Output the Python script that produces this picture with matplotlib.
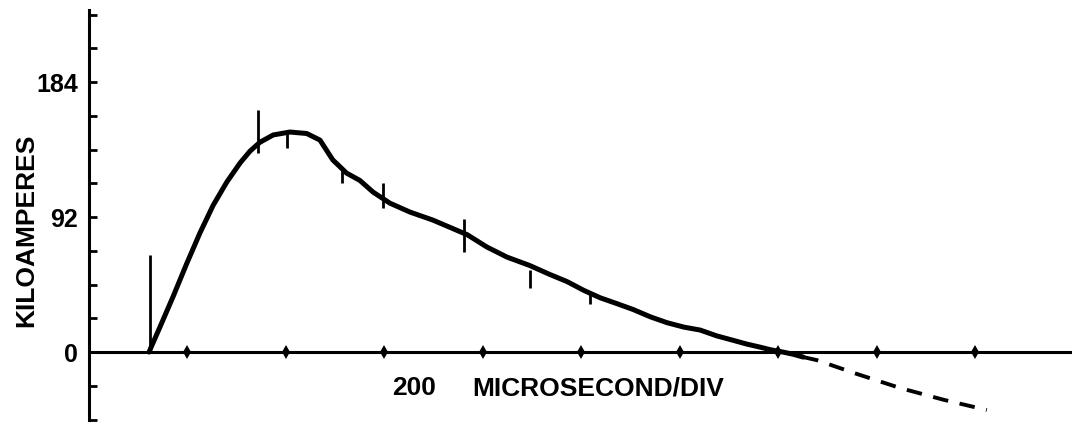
import matplotlib
matplotlib.use('Agg')
import matplotlib.pyplot as plt

# current trace, microseconds vs kiloamperes
time_us = [122, 127, 144, 171, 198, 225, 252, 280, 307, 327, 347, 374, 408, 442,
           469, 495, 523, 550, 577, 611, 652, 698, 733, 768, 808, 849, 895, 935,
           971, 1005, 1038, 1072, 1105, 1140, 1174, 1208, 1241, 1275, 1308, 1335,
           1362, 1385, 1409, 1430, 1450]
current_ka = [0, 4, 17, 38, 60, 81, 100, 116, 129, 137, 143, 148, 150, 149,
              144.5, 131, 122, 117, 109, 101.5, 95.4, 90, 85, 80, 71.6, 64.7, 59, 53,
              48, 42, 37, 33, 29, 24, 20, 17, 15, 11, 8, 5.5,
              3.4, 1.5, 0, -1.5, -3.4]

# extrapolated (dashed) tail
tail_us = [1450, 1478, 1560, 1647, 1735, 1823]
tail_ka = [-3.4, -5.5, -15, -24.5, -32.5, -39.5]

# noise spikes: position, low end, high end
spike_us = [124, 343, 402, 514, 597, 761, 895, 1017]
spike_lo = [0, 136, 139, 115, 98, 68, 44, 33]
spike_hi = [66, 165, 150, 125, 115, 91, 56, 40]

y_ticks = [-46, -23, 0, 23, 46, 69, 92, 115, 138, 161, 184, 207, 230]
y_labels = ['', '', '0', '', '', '', '92', '', '', '', '184', '', '']
x_ticks = [200, 400, 600, 800, 1000, 1200, 1400, 1600, 1800]

plt.rcParams['font.family'] = ['Liberation Sans', 'DejaVu Sans']

fig = plt.figure(figsize=(10.72, 4.26), dpi=100)
ax = fig.add_axes([89 / 1072, 0, 983 / 1072, 1])
ax.set_xlim(0, 1996)
ax.set_ylim(-50.4, 240)

for s in ['top', 'right', 'bottom']:
    ax.spines[s].set_visible(False)
ax.spines['left'].set_bounds(-46, 233)
ax.spines['left'].set_linewidth(2.2)

ax.set_yticks(y_ticks)
ax.set_yticklabels(y_labels, fontsize=18, fontweight='bold')
ax.tick_params(axis='y', direction='in', length=6, width=2, pad=8)
ax.set_xticks([])

# zero line with small diamond tick marks
ax.axhline(0, color='black', lw=2.2)
ax.plot(x_ticks, [0] * len(x_ticks), ls='none', marker='d', ms=7,
        color='black', mew=0)

ax.plot(time_us, current_ka, color='black', lw=3.6, solid_capstyle='round',
        solid_joinstyle='round')
ax.plot(tail_us, tail_ka, color='black', lw=2.8, ls=(0, (4, 3)))
ax.vlines(spike_us, spike_lo, spike_hi, color='black', lw=2)

ax.set_ylabel('KILOAMPERES', fontsize=19, fontweight='bold')
ax.yaxis.set_label_coords(-0.052, 0.46)

fig.text(414 / 1072, 1 - 388 / 426, '200', fontsize=19, fontweight='bold',
         ha='center', va='center')
fig.text(598 / 1072, 1 - 388 / 426, 'MICROSECOND/DIV', fontsize=19,
         fontweight='bold', ha='center', va='center')

fig.savefig('out.png', dpi=100)
